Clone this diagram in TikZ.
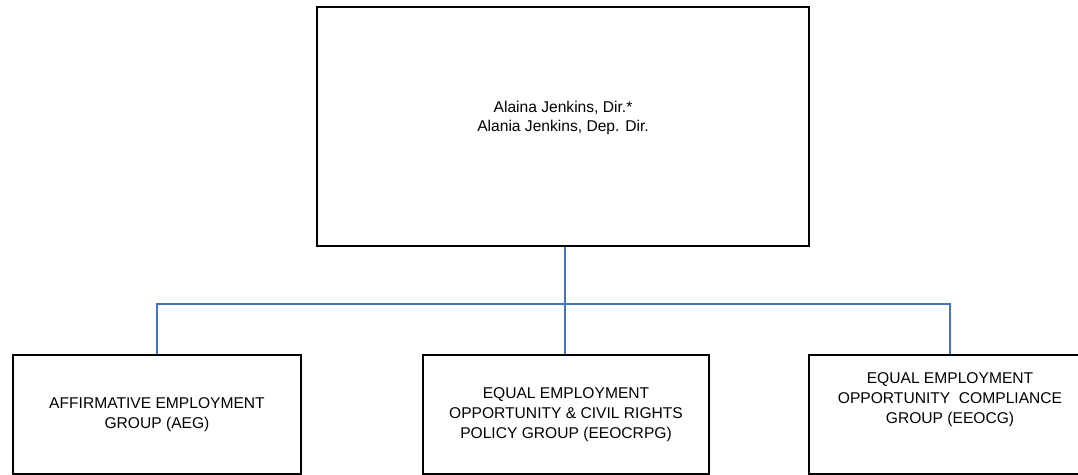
\documentclass[tikz,border=0pt]{standalone}
\usepackage{fontspec}
\setmainfont{Liberation Sans}
\definecolor{linkblue}{HTML}{4472C4}
\begin{document}
\begin{tikzpicture}[x=1pt,y=-1pt,
    box/.style={draw=black,line width=2.4pt,fill=white,align=center,inner sep=0pt,
      font=\fontsize{15.6}{20}\selectfont},
    link/.style={draw=linkblue,line width=2.2pt}]
      \useasboundingbox (0,0) rectangle (1078,474);
      \node[box,minimum width=492,minimum height=239] at (563,126.5) (dir) {};
      \node[font=\fontsize{15.6}{19}\selectfont,align=center] at ([yshift=9]dir.center) (dirnames) {Alaina Jenkins, Dir.*\\Alania Jenkins, Dep. Dir.};
      \node[box,minimum width=288,minimum height=119] at (157,414.5) (aeg) {AFFIRMATIVE EMPLOYMENT\\GROUP (AEG)};
      \node[box,minimum width=286,minimum height=119] at (566,414.5) (eeocrpg) {EQUAL EMPLOYMENT\\OPPORTUNITY \& CIVIL RIGHTS\\POLICY GROUP (EEOCRPG)};
      \node[box,minimum width=282,minimum height=119] at (950,414.5) (eeocg) {EQUAL EMPLOYMENT\\OPPORTUNITY\ \ COMPLIANCE\\GROUP (EEOCG)\\[12pt]};
      \coordinate (bus) at (565,304);
      \draw[link] (dir.south -| bus) -- (eeocrpg.north -| bus);
      \draw[link] (aeg.north) |- (bus) -| (eeocg.north);
    \end{tikzpicture}
\end{document}
